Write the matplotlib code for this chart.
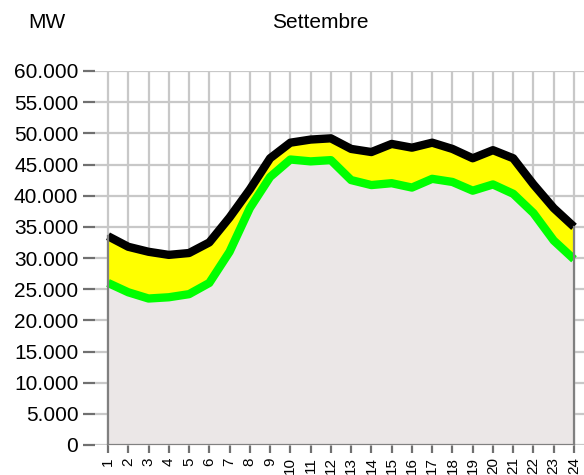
import matplotlib
matplotlib.use("Agg")
import matplotlib.pyplot as plt
from matplotlib.ticker import FuncFormatter

hours = list(range(1, 25))
total = [33500, 31800, 31000, 30500, 30800, 32500, 36500, 41000, 46000, 48500,
         49000, 49200, 47500, 47000, 48300, 47700, 48500, 47500, 46000, 47300,
         46000, 41800, 38000, 35000]
base = [26000, 24500, 23500, 23700, 24200, 26000, 31000, 38000, 43000, 45800,
        45500, 45700, 42500, 41700, 42000, 41300, 42700, 42200, 40800, 41800,
        40300, 37200, 32800, 29800]
yticks = list(range(0, 60001, 5000))

plt.rcParams['font.family'] = ['Liberation Sans', 'DejaVu Sans']
fig = plt.figure(figsize=(5.84, 4.75), dpi=100)
W, H = 584, 475
ax = fig.add_axes([95 / W, (H - 445) / H, (584 - 95) / W, (445 - 71) / H])

px_per_hour = (574 - 108) / 23
ax.set_xlim(1 - 13 / px_per_hour, 24 + 10 / px_per_hour)
ax.set_ylim(0, 60000)

grid_c = '#c8c8c8'
for yv in yticks:
    ax.axhline(yv, color=grid_c, lw=1.6, zorder=1)
for h in hours:
    ax.plot([h, h], [0, 60000], color=grid_c, lw=1.6, zorder=1)

ax.fill_between(hours, 0, base, color='#ebe7e7', zorder=2, lw=0)
ax.fill_between(hours, base, total, color='#ffff00', zorder=2, lw=0)
ax.plot(hours, base, color='#00ff00', lw=6, zorder=3, solid_capstyle='butt')
ax.plot(hours, total, color='#000000', lw=6, zorder=4, solid_capstyle='butt')

ax.plot([1, 1], [0, total[0]], color='#808080', lw=1.6, zorder=5)
ax.plot([24, 24], [0, total[-1]], color='#808080', lw=1.6, zorder=5)
ax.plot([1, 24], [0, 0], color='#808080', lw=1.6, zorder=5)

for s in ax.spines.values():
    s.set_visible(False)

ax.set_yticks(yticks)
ax.yaxis.set_major_formatter(FuncFormatter(lambda v, p: f"{int(v):,}".replace(",", ".")))
ax.set_xticks(hours)
ax.set_xticklabels([str(h) for h in hours], rotation=90)
ax.tick_params(axis='y', length=9, width=1.6, color='#707070', labelsize=15, pad=3)
ax.tick_params(axis='x', length=6, width=1.6, color='#707070', labelsize=11, pad=3)

fig.text(47 / W, 1 - 22 / H, 'MW', ha='center', va='center', fontsize=15)
fig.text(320 / W, 1 - 22 / H, 'Settembre', ha='center', va='center', fontsize=15)

fig.savefig('out.png', dpi=100)
